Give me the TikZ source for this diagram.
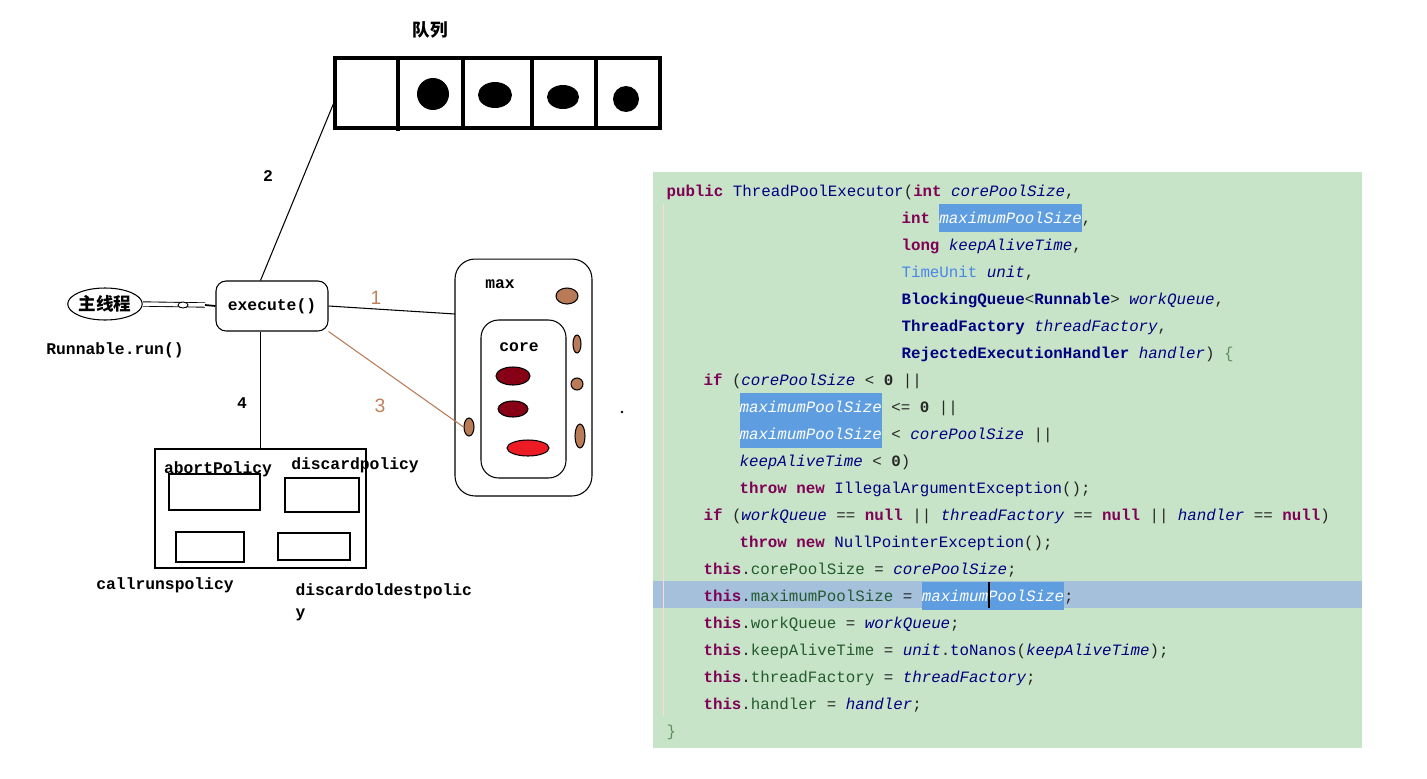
\documentclass[tikz,border=0pt]{standalone}
\usepackage{fontspec}
\setmonofont{Liberation Mono}
\newfontfamily\cjk{Noto Sans CJK SC}
\newfontfamily\numfont{Liberation Sans}
\usepackage{xcolor}
\usepackage{tikz}
\usetikzlibrary{shapes.geometric}

\definecolor{kwc}{HTML}{7F0055}
\definecolor{clc}{HTML}{000080}
\definecolor{tuc}{HTML}{4A86E8}
\definecolor{fdc}{HTML}{235A2E}
\definecolor{hlc}{HTML}{5E9EE0}
\definecolor{curc}{HTML}{A4C0DA}
\definecolor{codebg}{HTML}{C8E4C8}
\definecolor{brc}{HTML}{5F8F5F}
\definecolor{brownc}{HTML}{B97A57}
\definecolor{darkredc}{HTML}{880015}
\definecolor{redc}{HTML}{ED1C24}
\definecolor{numc}{HTML}{C0805A}

\newcommand{\jkw}[1]{{\color{kwc}\bfseries #1}}
\newcommand{\jcls}[1]{{\color{clc}#1}}
\newcommand{\jclb}[1]{{\color{clc}\bfseries #1}}
\newcommand{\jpar}[1]{{\color{clc}\itshape #1}}
\newcommand{\jfld}[1]{{\color{fdc}#1}}
\newcommand{\jstrut}{\rule[-4.6pt]{0pt}{15.4pt}}
\newcommand{\jhl}[1]{{\setlength{\fboxsep}{0pt}\colorbox{hlc}{\jstrut\color{white}\itshape #1}}}

\tikzset{
    lbl/.style={inner sep=0, font=\ttfamily\bfseries\fontsize{9.3}{11}\selectfont},
    codeline/.style={anchor=west, inner sep=0, text=black!85,
        font=\ttfamily\fontsize{9}{11}\selectfont, execute at begin node=\jstrut},
    blob/.style={ellipse, draw, inner sep=0, fill=brownc},
    dot/.style={ellipse, fill=black, inner sep=0},
    box/.style={draw, line width=0.6pt, inner sep=0},
}

\begin{document}
\begin{tikzpicture}[x=0.02cm, y=-0.02cm, line width=0.6pt]
        \useasboundingbox (0,0) rectangle (1427,778);

        % queue
        \node[lbl, font=\cjk\bfseries\fontsize{10}{12}\selectfont] (qtitle) at (430,30) {队列};
        \node[draw, line width=2.3pt, minimum width=6.5cm, minimum height=1.4cm] (queue) at (497.5,93) {};
        \draw[line width=2.3pt] (398,56) -- (398,131);
        \draw[line width=2.3pt] (463,58) -- (463,128);
        \draw[line width=2.3pt] (532,60) -- (532,130);
        \draw[line width=2.3pt] (596,58) -- (596,128);
        \node[dot, minimum width=0.64cm, minimum height=0.64cm] (d1) at (433,94) {};
        \node[dot, minimum width=0.68cm, minimum height=0.52cm] (d2) at (495,95) {};
        \node[dot, minimum width=0.64cm, minimum height=0.48cm] (d3) at (563,97) {};
        \node[dot, minimum width=0.52cm, minimum height=0.52cm] (d4) at (626,99) {};

        % main thread and execute()
        \node[draw, ellipse, inner sep=0, minimum width=1.4cm, minimum height=0.64cm,
              font=\cjk\bfseries\fontsize{10}{12}\selectfont] (main) at (105,304) {主线程};
        \node[box, rounded corners=0.2cm, minimum width=2.24cm, minimum height=1cm,
              font=\ttfamily\bfseries\fontsize{9.3}{11}\selectfont] (exec) at (272,306) {execute()};
        \node[lbl] (run) at (115,350) {Runnable.run()};
        \coordinate (join) at (205,305);
        \draw[double, double distance=2pt, line width=0.5pt] (main.east) -- (join);
        \draw[line width=1pt] (join) -- (exec.west);
        \draw[fill=white, line width=0.5pt] (183,305) ellipse (5 and 3);

        % max / core
        \node[box, rounded corners=0.4cm, minimum width=2.74cm, minimum height=4.74cm] (max) at (523.5,377.5) {};
        \node[box, rounded corners=0.35cm, minimum width=1.7cm, minimum height=3.16cm] (core) at (523.5,399) {};
        \node[lbl] (maxlbl) at (500,284) {max};
        \node[lbl] (corelbl) at (519,347) {core};
        \node[blob, minimum width=0.44cm, minimum height=0.32cm] (b1) at (567,296) {};
        \node[blob, minimum width=0.16cm, minimum height=0.36cm] (b2) at (577,344) {};
        \node[blob, minimum width=0.24cm, minimum height=0.24cm] (b3) at (577,384) {};
        \node[blob, minimum width=0.2cm, minimum height=0.48cm] (b4) at (580,436) {};
        \node[blob, minimum width=0.2cm, minimum height=0.36cm] (b5) at (469,427) {};
        \node[blob, fill=darkredc, minimum width=0.68cm, minimum height=0.36cm] (t1) at (513,376) {};
        \node[blob, fill=darkredc, minimum width=0.6cm, minimum height=0.32cm] (t2) at (513,409) {};
        \node[blob, fill=redc, minimum width=0.84cm, minimum height=0.32cm] (t3) at (528,448) {};
        \fill (622,412) circle (0.8pt);

        % rejection policies
        \node[box, minimum width=4.22cm, minimum height=2.38cm] (pol) at (260.5,508.5) {};
        \node[box, minimum width=1.82cm, minimum height=0.72cm] (abort) at (214.5,492) {};
        \node[box, minimum width=1.48cm, minimum height=0.68cm] (discard) at (322,495) {};
        \node[box, minimum width=1.36cm, minimum height=0.6cm] (callruns) at (210,547) {};
        \node[box, minimum width=1.44cm, minimum height=0.54cm] (oldest) at (314,546.5) {};
        \node[lbl] (abortlbl) at (218,469) {abortPolicy};
        \node[lbl] (discardlbl) at (355,465) {discardpolicy};
        \node[lbl] (callrunslbl) at (165,585) {callrunspolicy};
        \node[lbl, anchor=west] (oldestlbl) at (295,591) {discardoldestpolic};
        \node[lbl, anchor=west] (oldesty) at (295,615) {y};

        % connectors
        \coordinate (qin) at (335,100);
        \coordinate (maxin) at (455,314);
        \draw (exec.north -| pol.north) -- (qin); % 2
        \draw (exec.east) -- (maxin); % 1
        \draw[brownc] (exec.south east) -- (b5.west); % 3
        \draw (exec.south -| pol.north) -- (pol.north); % 4
        \node[lbl] (n2) at (268,176) {2};
        \node[lbl] (n4) at (242,403) {4};
        \node[inner sep=0, text=numc, font=\numfont\fontsize{11}{13}\selectfont] (n1) at (376,298) {1};
        \node[inner sep=0, text=numc, font=\numfont\fontsize{11}{13}\selectfont] (n3) at (380,406) {3};

        % code
        \fill[codebg] (653,172) rectangle (1362,748);
        \fill[curc] (653,581) rectangle (1362,608);
        \draw[pink!60, line width=0.4pt] (663,204) -- (663,716);
        \node[codeline] (c1) at (666,191) {\jkw{public} \jcls{ThreadPoolExecutor}(\jkw{int} \jpar{corePoolSize},};
        \node[codeline] (c2) at (901,218) {\jkw{int} \jhl{maximumPoolSize},};
        \node[codeline] (c3) at (901,245) {\jkw{long} \jpar{keepAliveTime},};
        \node[codeline] (c4) at (901,272) {{\color{tuc}TimeUnit} \jpar{unit},};
        \node[codeline] (c5) at (901,299) {\jclb{BlockingQueue}<\jclb{Runnable}> \jpar{workQueue},};
        \node[codeline] (c6) at (901,326) {\jclb{ThreadFactory} \jpar{threadFactory},};
        \node[codeline] (c7) at (901,353) {\jclb{RejectedExecutionHandler} \jpar{handler}) {\color{brc}\{}};
        \node[codeline] (c8) at (703,380) {\jkw{if} (\jpar{corePoolSize} < \textbf{0} ||};
        \node[codeline] (c9) at (739,407) {\jhl{maximumPoolSize} <= \textbf{0} ||};
        \node[codeline] (c10) at (739,434) {\jhl{maximumPoolSize} < \jpar{corePoolSize} ||};
        \node[codeline] (c11) at (739,461) {\jpar{keepAliveTime} < \textbf{0})};
        \node[codeline] (c12) at (739,488) {\jkw{throw} \jkw{new} \jcls{IllegalArgumentException}();};
        \node[codeline] (c13) at (703,515) {\jkw{if} (\jpar{workQueue} == \jkw{null} || \jpar{threadFactory} == \jkw{null} || \jpar{handler} == \jkw{null})};
        \node[codeline] (c14) at (739,542) {\jkw{throw} \jkw{new} \jcls{NullPointerException}();};
        \node[codeline] (c15) at (703,569) {\jkw{this}.\jfld{corePoolSize} = \jpar{corePoolSize};};
        \node[codeline] (c16) at (703,596) {\jkw{this}.\jfld{maximumPoolSize} = \jhl{maximumPoolSize};};
        \node[codeline] (c17) at (703,623) {\jkw{this}.\jfld{workQueue} = \jpar{workQueue};};
        \node[codeline] (c18) at (703,650) {\jkw{this}.\jfld{keepAliveTime} = \jpar{unit}.\jcls{toNanos}(\jpar{keepAliveTime});};
        \node[codeline] (c19) at (703,677) {\jkw{this}.\jfld{threadFactory} = \jpar{threadFactory};};
        \node[codeline] (c20) at (703,704) {\jkw{this}.\jfld{handler} = \jpar{handler};};
        \node[codeline] (c21) at (666,731) {{\color{brc}\}}};
        \draw[line width=1.2pt] (989,582) -- (989,608); % cursor
    \end{tikzpicture}
\end{document}
